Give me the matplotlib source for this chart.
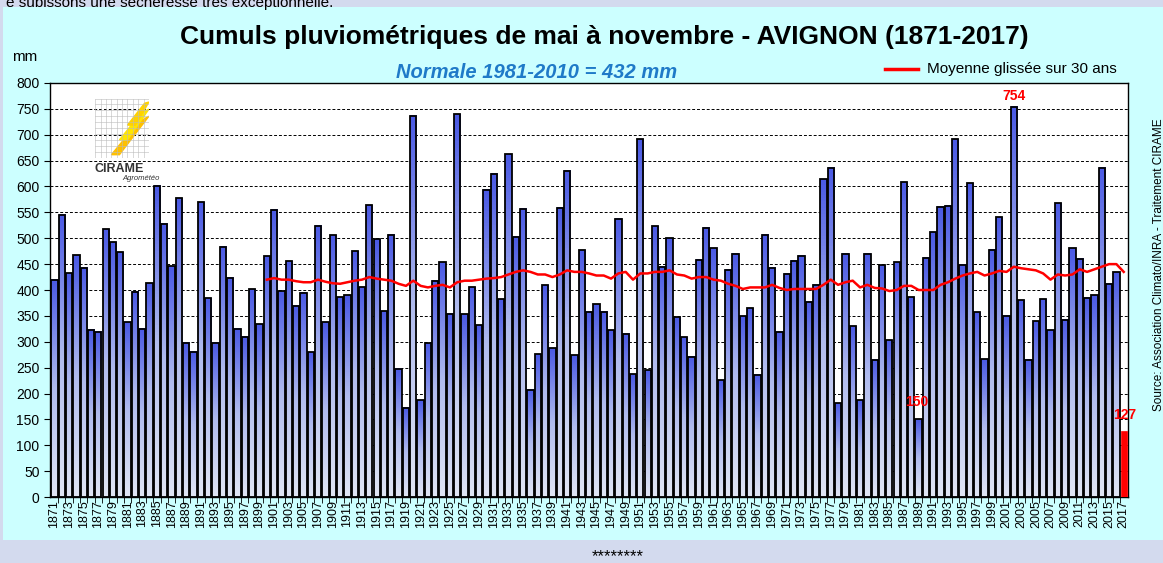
import numpy as np
import matplotlib
matplotlib.use("Agg")
import matplotlib.pyplot as plt
from matplotlib.colors import LinearSegmentedColormap
from matplotlib.patches import Rectangle

plt.rcParams['font.family'] = ['Liberation Sans', 'DejaVu Sans']

## Data
years = list(range(1871, 2018))
rain = [420, 545, 432, 467, 443, 323, 319, 517, 492, 473,
        338, 397, 325, 413, 601, 528, 446, 577, 298, 281,
        570, 384, 298, 484, 424, 325, 310, 401, 334, 465,
        555, 398, 456, 370, 395, 280, 524, 338, 506, 386,
        390, 475, 405, 564, 498, 359, 507, 248, 172, 737,
        187, 297, 418, 454, 354, 740, 353, 405, 332, 594,
        625, 382, 662, 503, 557, 207, 276, 409, 287, 559,
        630, 274, 477, 358, 372, 358, 322, 538, 315, 237,
        691, 245, 523, 445, 500, 347, 309, 271, 458, 520,
        481, 226, 439, 470, 349, 365, 236, 507, 443, 319,
        431, 457, 466, 377, 410, 614, 636, 181, 470, 330,
        187, 470, 265, 448, 303, 454, 608, 386, 150, 462,
        512, 561, 563, 691, 449, 606, 357, 266, 478, 541,
        350, 754, 380, 265, 340, 382, 322, 568, 343, 481,
        460, 385, 390, 636, 412, 434, 127]

# moving average over 30 years (red line), starts in 1900
ma_years = list(range(1900, 2018))
ma_vals = [420, 423, 420, 420, 417, 415, 415, 420, 416, 413,
           412, 415, 418, 420, 425, 422, 420, 418, 412, 408,
           418, 408, 405, 408, 410, 405, 415, 418, 418, 420,
           422, 423, 425, 430, 435, 438, 435, 430, 430, 425,
           430, 438, 435, 435, 432, 428, 428, 422, 432, 435,
           420, 432, 432, 435, 435, 438, 430, 428, 422, 425,
           425, 420, 418, 412, 408, 402, 405, 405, 405, 410,
           404, 400, 402, 402, 402, 402, 410, 420, 410, 415,
           418, 405, 410, 404, 403, 398, 400, 408, 408, 400,
           400, 400, 410, 415, 422, 428, 432, 435, 428, 432,
           437, 435, 445, 442, 440, 438, 432, 420, 430, 428,
           430, 440, 435, 440, 445, 450, 450, 435]

labels = {2002: "754", 1989: "150", 2017: "127"}

## Figure
fig = plt.figure(figsize=(11.63, 5.63), dpi=100, facecolor='#D3DAEE')
fig.patches.append(Rectangle((0.003, 0.04), 1.0, 0.947, transform=fig.transFigure,
                             facecolor='#CCFFFF', edgecolor='none', zorder=-5))
ax = fig.add_axes([0.043, 0.1172, 0.927, 0.7354])
ax.set_facecolor('white')

cmap = LinearSegmentedColormap.from_list('bar', ['#E0E5F4', '#B0BBEE', '#4B5AE4'])
grad = np.linspace(0, 1, 100).reshape(-1, 1)
w = 0.86
for y, v in zip(years, rain):
    if y == 2017:
        ax.bar(y, v, width=w, color='#FF0000', edgecolor='#FF0000', lw=0.5, zorder=3)
        continue
    ax.imshow(grad, cmap=cmap, origin='lower', aspect='auto',
              extent=[y - w / 2, y + w / 2, 0, v], zorder=2)
ax.bar(years[:-1], rain[:-1], width=w, facecolor='none', edgecolor='black', lw=1.3, zorder=3)

ax.plot(ma_years, ma_vals, color='#FF0000', lw=1.8, zorder=4)

for y, t in labels.items():
    v = rain[years.index(y)]
    if y == 2002:
        ax.text(y, v + 8, t, color='red', fontsize=10, fontweight='bold', ha='center', va='bottom', zorder=5)
    elif y == 1989:
        ax.text(y - 0.2, 170, t, color='red', fontsize=10, fontweight='bold', ha='center', va='bottom', zorder=5)
    else:
        ax.text(y + 0.2, 145, t, color='red', fontsize=10, fontweight='bold', ha='center', va='bottom', zorder=5)

ax.set_xlim(1870.4, 2017.6)
ax.set_ylim(0, 800)
ax.set_yticks(range(0, 801, 50))
ax.tick_params(axis='y', labelsize=10, length=4, direction='out')
for g in range(50, 801, 50):
    ax.axhline(g, color='black', ls=(0, (3, 2)), lw=0.7, zorder=1)

ax.set_xticks(years[::2])
ax.set_xticklabels([str(y) for y in years[::2]], rotation=90, fontsize=9)
ax.set_xticks([y + 0.5 for y in years[:-1]], minor=True)
ax.tick_params(axis='x', which='major', length=0, pad=2)
ax.tick_params(axis='x', which='minor', length=4, direction='out')
for s in ax.spines.values():
    s.set_linewidth(1.0)

## Texts
fig.text(0.52, 0.934, "Cumuls pluviométriques de mai à novembre - AVIGNON (1871-2017)",
         ha='center', va='center', fontsize=19, fontweight='bold')
fig.text(0.010, 0.898, "mm", ha='left', va='center', fontsize=11)
fig.text(0.461, 0.872, "Normale 1981-2010 = 432 mm", ha='center', va='center',
         fontsize=14.5, fontstyle='italic', fontweight='bold', color='#1F7AC8')
fig.add_artist(plt.Line2D([0.761, 0.789], [0.877, 0.877], color='red', lw=2.5))
fig.text(0.797, 0.877, "Moyenne glissée sur 30 ans", ha='left', va='center', fontsize=11)
fig.text(0.005, 0.995, "e subissons une sécheresse très exceptionnelle.", ha='left', va='center', fontsize=11)
fig.text(0.531, 0.012, "********", ha='center', va='center', fontsize=12)
fig.text(0.9965, 0.53, "Source: Association Climato/INRA - Traitement CIRAME", rotation=90,
         ha='center', va='center', fontsize=8.5)

# small CIRAME logo
lax = fig.add_axes([0.082, 0.72, 0.046, 0.105])
lax.set_xlim(0, 10)
lax.set_ylim(0, 10)
for i in range(11):
    lax.axhline(i, color='#BBBBBB', lw=0.4)
    lax.axvline(i, color='#BBBBBB', lw=0.4)
for k, c in enumerate(['#FFC000', '#FFE600', '#FFD200']):
    lax.fill([3 + k * 1.5, 8 + k * 0.6, 10, 4.5 + k * 1.5],
             [0.5 + k * 2.5, 6 + k * 1.6, 7 + k * 1.2, 0.5 + k * 2.5], color=c)
lax.axis('off')
fig.text(0.081, 0.70, "CIRAME", fontsize=9, fontweight='bold', color='#333333', va='center')
fig.text(0.105, 0.683, "Agrométéo", fontsize=5.5, fontstyle='italic', color='#333333', va='center')

fig.savefig("out.png", dpi=100, facecolor=fig.get_facecolor())
